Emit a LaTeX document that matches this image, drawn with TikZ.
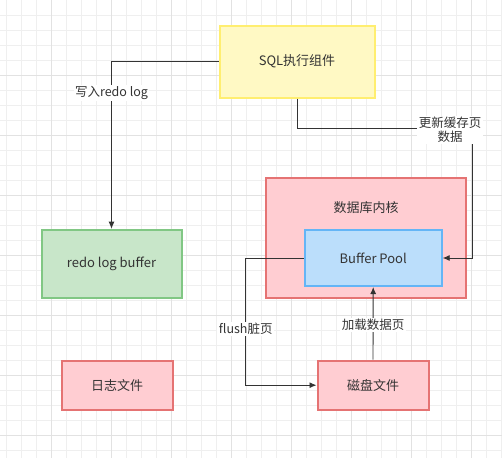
\documentclass[tikz,border=0pt]{standalone}
\usepackage{fontspec}
\setmainfont{Noto Sans CJK SC}
\usetikzlibrary{arrows.meta}
\definecolor{txt}{HTML}{333333}
\definecolor{gridminor}{HTML}{EFEFEF}
\definecolor{gridmajor}{HTML}{E2E2E2}
\definecolor{yfill}{HTML}{FFF9C4}
\definecolor{ydraw}{HTML}{FFEE70}
\definecolor{gfill}{HTML}{C8E6C9}
\definecolor{gdraw}{HTML}{81C784}
\definecolor{rfill}{HTML}{FFCDD2}
\definecolor{rdraw}{HTML}{E57373}
\definecolor{bfill}{HTML}{BBDEFB}
\definecolor{bdraw}{HTML}{64B5F6}
\tikzset{
  box/.style={draw,line width=2pt,inner sep=0pt,text=txt,font=\fontsize{13}{15}\selectfont},
  conn/.style={draw=txt,line width=0.9pt},
  arr/.style={conn,-{Latex[length=7pt,width=6pt]}},
  lbl/.style={fill=white,inner sep=1.5pt,text=txt,align=center,font=\fontsize{12.5}{14}\selectfont},
}
\begin{document}
\begin{tikzpicture}[x=1pt,y=-1pt]
% canvas
\useasboundingbox (0,0) rectangle (502,458);
\fill[white] (0,0) rectangle (502,458);
% grid
\foreach \i in {0,...,33}
  \draw[gridminor,line width=1pt] (6.7+15*\i,0) -- (6.7+15*\i,458);
\foreach \i in {1,...,30}
  \draw[gridminor,line width=1pt] (0,15*\i) -- (502,15*\i);
\foreach \gx in {51.7,111.7,171.7,231.7,291.7,351.7,411.7,471.7}
  \draw[gridmajor,line width=1pt] (\gx,0) -- (\gx,458);
\foreach \gy in {75,135,195,255,315,375,435}
  \draw[gridmajor,line width=1pt] (0,\gy) -- (502,\gy);
% boxes
\node[box,draw=ydraw,fill=yfill,minimum width=155pt,minimum height=72pt] (sql) at (297,61.5) {SQL执行组件};
\node[box,draw=gdraw,fill=gfill,minimum width=140pt,minimum height=68pt] (rlb) at (111.5,263.7) {redo log buffer};
\node[box,draw=rdraw,fill=rfill,minimum width=200pt,minimum height=120pt] (kernel) at (366,237.7) {};
\node[text=txt,font=\fontsize{13}{15}\selectfont] (kerneltxt) at (366,207.7) {数据库内核};
\node[box,draw=bdraw,fill=bfill,minimum width=137pt,minimum height=56pt] (bp) at (373.2,258) {Buffer Pool};
\node[box,draw=rdraw,fill=rfill,minimum width=111pt,minimum height=49pt] (logf) at (117.2,385.2) {日志文件};
\node[box,draw=rdraw,fill=rfill,minimum width=111pt,minimum height=49pt] (disk) at (373,385.2) {磁盘文件};
% connectors
\coordinate (upd) at (472.7,128.3);
\coordinate (fl) at (245.7,385.2);
\draw[arr] (sql.west) -| (rlb.north) node[lbl,pos=0.594] {写入redo log};
\draw[arr] (sql.south) |- (upd) |- (bp.east);
\node[lbl] (updlbl) at (450,130) {更新缓存页\\数据};
\draw[arr] (bp.west) -| (fl) -- (disk.west);
\node[lbl] (fllbl) at (245.7,329) {flush脏页};
\draw[arr] (disk.north) -- (bp.south) node[lbl,pos=0.48] {加载数据页};
\end{tikzpicture}
\end{document}
